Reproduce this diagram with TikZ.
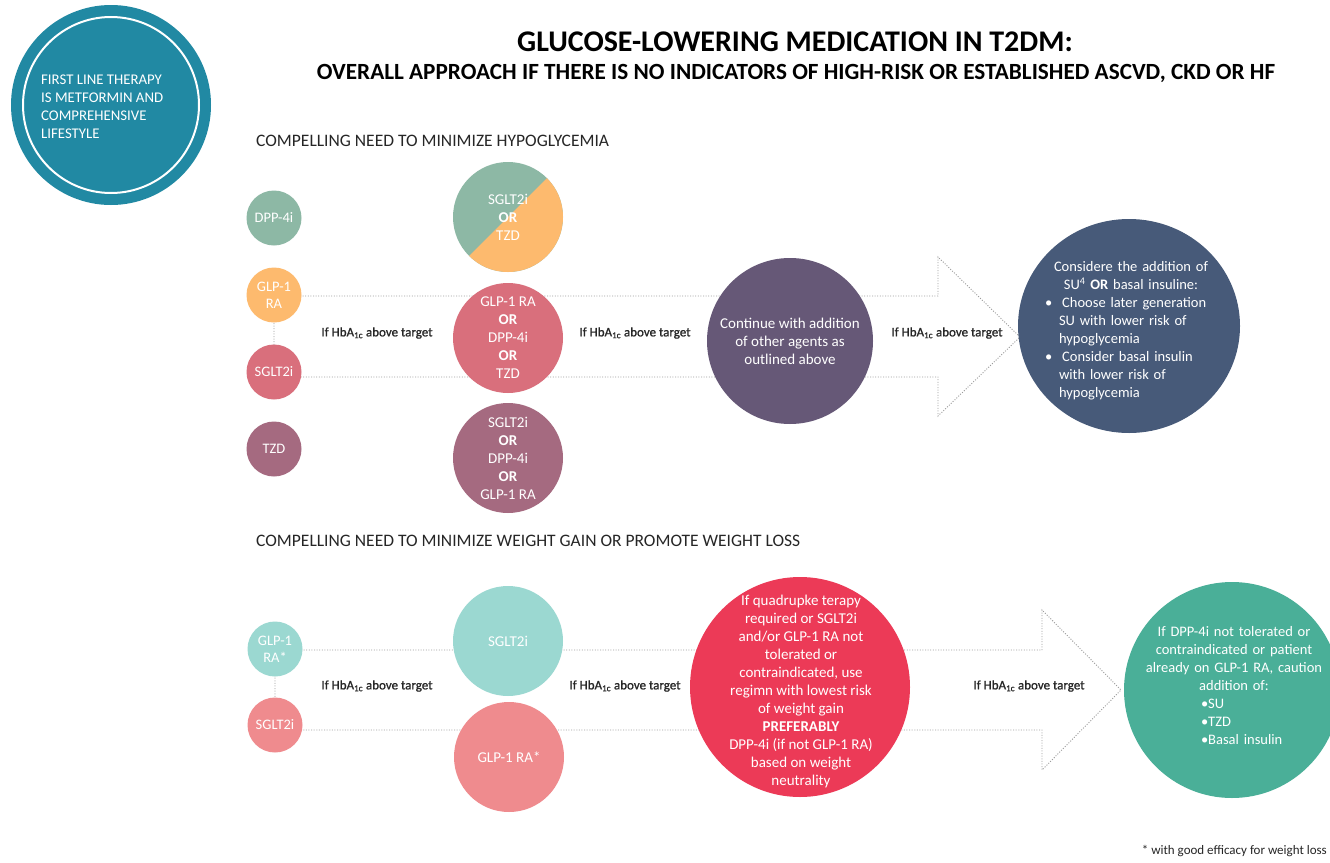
\documentclass[tikz,border=0pt]{standalone}
\usepackage{fontspec}
\setmainfont{Carlito}
\newfontfamily\semib[FakeBold=1.0]{Carlito}
\usetikzlibrary{shapes.geometric}
\definecolor{tealA}{HTML}{2189A3}
\definecolor{dppgreen}{HTML}{8DB8A5}
\definecolor{glporange}{HTML}{FDBA6E}
\definecolor{sgltred}{HTML}{D96F7C}
\definecolor{tzdmauve}{HTML}{A56A80}
\definecolor{purpleC}{HTML}{665877}
\definecolor{navyC}{HTML}{475A79}
\definecolor{lteal}{HTML}{9BD8D1}
\definecolor{salmon}{HTML}{EF8B8E}
\definecolor{redC}{HTML}{EC3A57}
\definecolor{tealB}{HTML}{4AAF98}
\definecolor{arrowgray}{HTML}{9C9C9C}
\definecolor{darktext}{HTML}{262626}
\begin{document}
\begin{tikzpicture}[x=1pt,y=-1pt,
  disc/.style 2 args={circle, fill=#1, minimum size=#2, inner sep=0pt, draw=none},
  ctext/.style={text=white, align=center, inner sep=0pt, font=\fontsize{15}{18}\selectfont},
  stext/.style={text=white, align=center, inner sep=0pt, font=\fontsize{14.5}{17}\selectfont},
  lbl/.style={text=darktext, inner sep=0pt, font=\semib\fontsize{13}{15}\selectfont},
  head/.style={text=darktext, anchor=west, inner sep=0pt, font=\fontsize{17.5}{20}\selectfont},
  arrowline/.style={draw=arrowgray, line width=0.9pt, dash pattern=on 1pt off 1.6pt}
]
\useasboundingbox (0,0) rectangle (1330,862);
\fill[white] (0,0) rectangle (1330,862);

% ---- titles
\node[inner sep=0pt, font=\fontsize{30}{34}\selectfont\bfseries] (title) at (795,42) {GLUCOSE-LOWERING MEDICATION IN T2DM:};
\node[inner sep=0pt, font=\fontsize{23.2}{26}\selectfont\bfseries] (subtitle) at (796,73) {OVERALL APPROACH IF THERE IS NO INDICATORS OF HIGH-RISK OR ESTABLISHED ASCVD, CKD OR HF};

% ---- first line therapy
\node[disc={tealA}{200pt}] (first) at (111,105) {};
\draw[white, line width=2pt] (first.center) circle (88pt);
\node[text=white, align=left, anchor=west, inner sep=0pt, font=\fontsize{14.8}{18}\selectfont] (firstt) at (41,107) {FIRST LINE THERAPY\\IS METFORMIN AND\\COMPREHENSIVE\\LIFESTYLE};

% ---- section headings
\node[head] (h1) at (256,141) {COMPELLING NEED TO MINIMIZE HYPOGLYCEMIA};
\node[head] (h2) at (256,541) {COMPELLING NEED TO MINIMIZE WEIGHT GAIN OR PROMOTE WEIGHT LOSS};

% ---- big dotted arrows (background)
\draw[arrowline] (274,296) -- (938,296) -- (938,257) -- (1020,337) -- (938,416) -- (938,377) -- (274,377) -- cycle;
\draw[arrowline] (275,650) -- (1042,650) -- (1042,610) -- (1121,690) -- (1042,770) -- (1042,730) -- (275,730) -- cycle;

% ---- upper section: small circles
\node[disc={dppgreen}{55pt}] (dpp) at (274,218) {};
\node[stext] (dppt) at (dpp) {DPP-4i};
\node[disc={glporange}{55pt}] (glp) at (274,295) {};
\node[stext] (glpt) at (glp) {GLP-1\\RA};
\node[disc={sgltred}{55pt}] (sglt) at (274,372) {};
\node[stext] (sgltt) at (sglt) {SGLT2i};
\node[disc={tzdmauve}{55pt}] (tzd) at (274,449) {};
\node[stext] (tzdt) at (tzd) {TZD};

% ---- upper section: middle circles
\node[circle, minimum size=110pt, inner sep=0pt, fill=dppgreen,
  path picture={\fill[glporange] (path picture bounding box.south west) -- (path picture bounding box.north east) -- (path picture bounding box.south east) -- cycle;}] (m1) at (508,217) {};
\node[ctext] (m1t) at (m1) {SGLT2i\\\textbf{OR}\\TZD};
\node[disc={sgltred}{110pt}] (m2) at (508,338) {};
\node[ctext] (m2t) at (m2) {GLP-1 RA\\\textbf{OR}\\DPP-4i\\\textbf{OR}\\TZD};
\node[disc={tzdmauve}{110pt}] (m3) at (508,458) {};
\node[ctext] (m3t) at (m3) {SGLT2i\\\textbf{OR}\\DPP-4i\\\textbf{OR}\\GLP-1 RA};

% ---- upper section: continue + SU/basal
\node[disc={purpleC}{166pt}] (cont) at (790,341) {};
\node[ctext] (contt) at (cont) {Continue with addition\\of other agents as\\outlined above};
\node[ellipse, fill=navyC, minimum width=222pt, minimum height=214pt, inner sep=0pt] (su) at (1129,326) {};
\node[ctext, font=\fontsize{14.5}{18}\selectfont, text width=176pt] (sut) at (1131,331) {Considere the addition of\\SU\textsuperscript{4} \textbf{OR} basal insuline:\\
\makebox[176pt][l]{\hspace{2pt}•\hspace{10pt}Choose later generation}\\
\makebox[176pt][l]{\hspace{16pt}SU with lower risk of}\\
\makebox[176pt][l]{\hspace{16pt}hypoglycemia}\\
\makebox[176pt][l]{\hspace{2pt}•\hspace{10pt}Consider basal insulin}\\
\makebox[176pt][l]{\hspace{16pt}with lower risk of}\\
\makebox[176pt][l]{\hspace{16pt}hypoglycemia}};

% ---- upper labels
\node[lbl] (l1) at (377,333) {If HbA\textsubscript{1c} above target};
\node[lbl] (l2) at (635,333) {If HbA\textsubscript{1c} above target};
\node[lbl] (l3) at (947,333) {If HbA\textsubscript{1c} above target};

% ---- lower section
\node[disc={lteal}{55pt}] (glpb) at (275,649) {};
\node[stext] (glpbt) at (glpb) {GLP-1\\RA*};
\node[disc={salmon}{55pt}] (sgltb) at (275,725) {};
\node[stext] (sgltbt) at (sgltb) {SGLT2i};

\node[disc={lteal}{110pt}] (n1) at (508,641) {};
\node[ctext] (n1t) at (n1) {SGLT2i};
\node[disc={salmon}{110pt}] (n2) at (509,757) {};
\node[ctext] (n2t) at (n2) {GLP-1 RA*};

\node[disc={redC}{220pt}] (quad) at (800,687) {};
\node[ctext] (quadt) at (801,691) {If quadrupke terapy\\required or SGLT2i\\and/or GLP-1 RA not\\tolerated or\\contraindicated, use\\regimn with lowest risk\\of weight gain\\\textbf{PREFERABLY}\\DPP-4i (if not GLP-1 RA)\\based on weight\\neutrality};

\node[disc={tealB}{216pt}] (dppno) at (1232,690) {};
\node[ctext, font=\fontsize{14.5}{18}\selectfont, text width=186pt] (dppnot) at (1234,686) {If DPP-4i not tolerated or\\contraindicated or patient\\already on GLP-1 RA, caution\\addition of:\\
\makebox[186pt][l]{\hspace{60pt}•SU}\\
\makebox[186pt][l]{\hspace{60pt}•TZD}\\
\makebox[186pt][l]{\hspace{60pt}•Basal insulin}};

\node[lbl] (l4) at (377,686) {If HbA\textsubscript{1c} above target};
\node[lbl] (l5) at (625,686) {If HbA\textsubscript{1c} above target};
\node[lbl] (l6) at (1029,686) {If HbA\textsubscript{1c} above target};

% ---- footnote
\node[anchor=east, inner sep=0pt, text=darktext, font=\fontsize{13}{15}\selectfont] (foot) at (1327,851) {* with good efficacy for weight loss};
\end{tikzpicture}
\end{document}
